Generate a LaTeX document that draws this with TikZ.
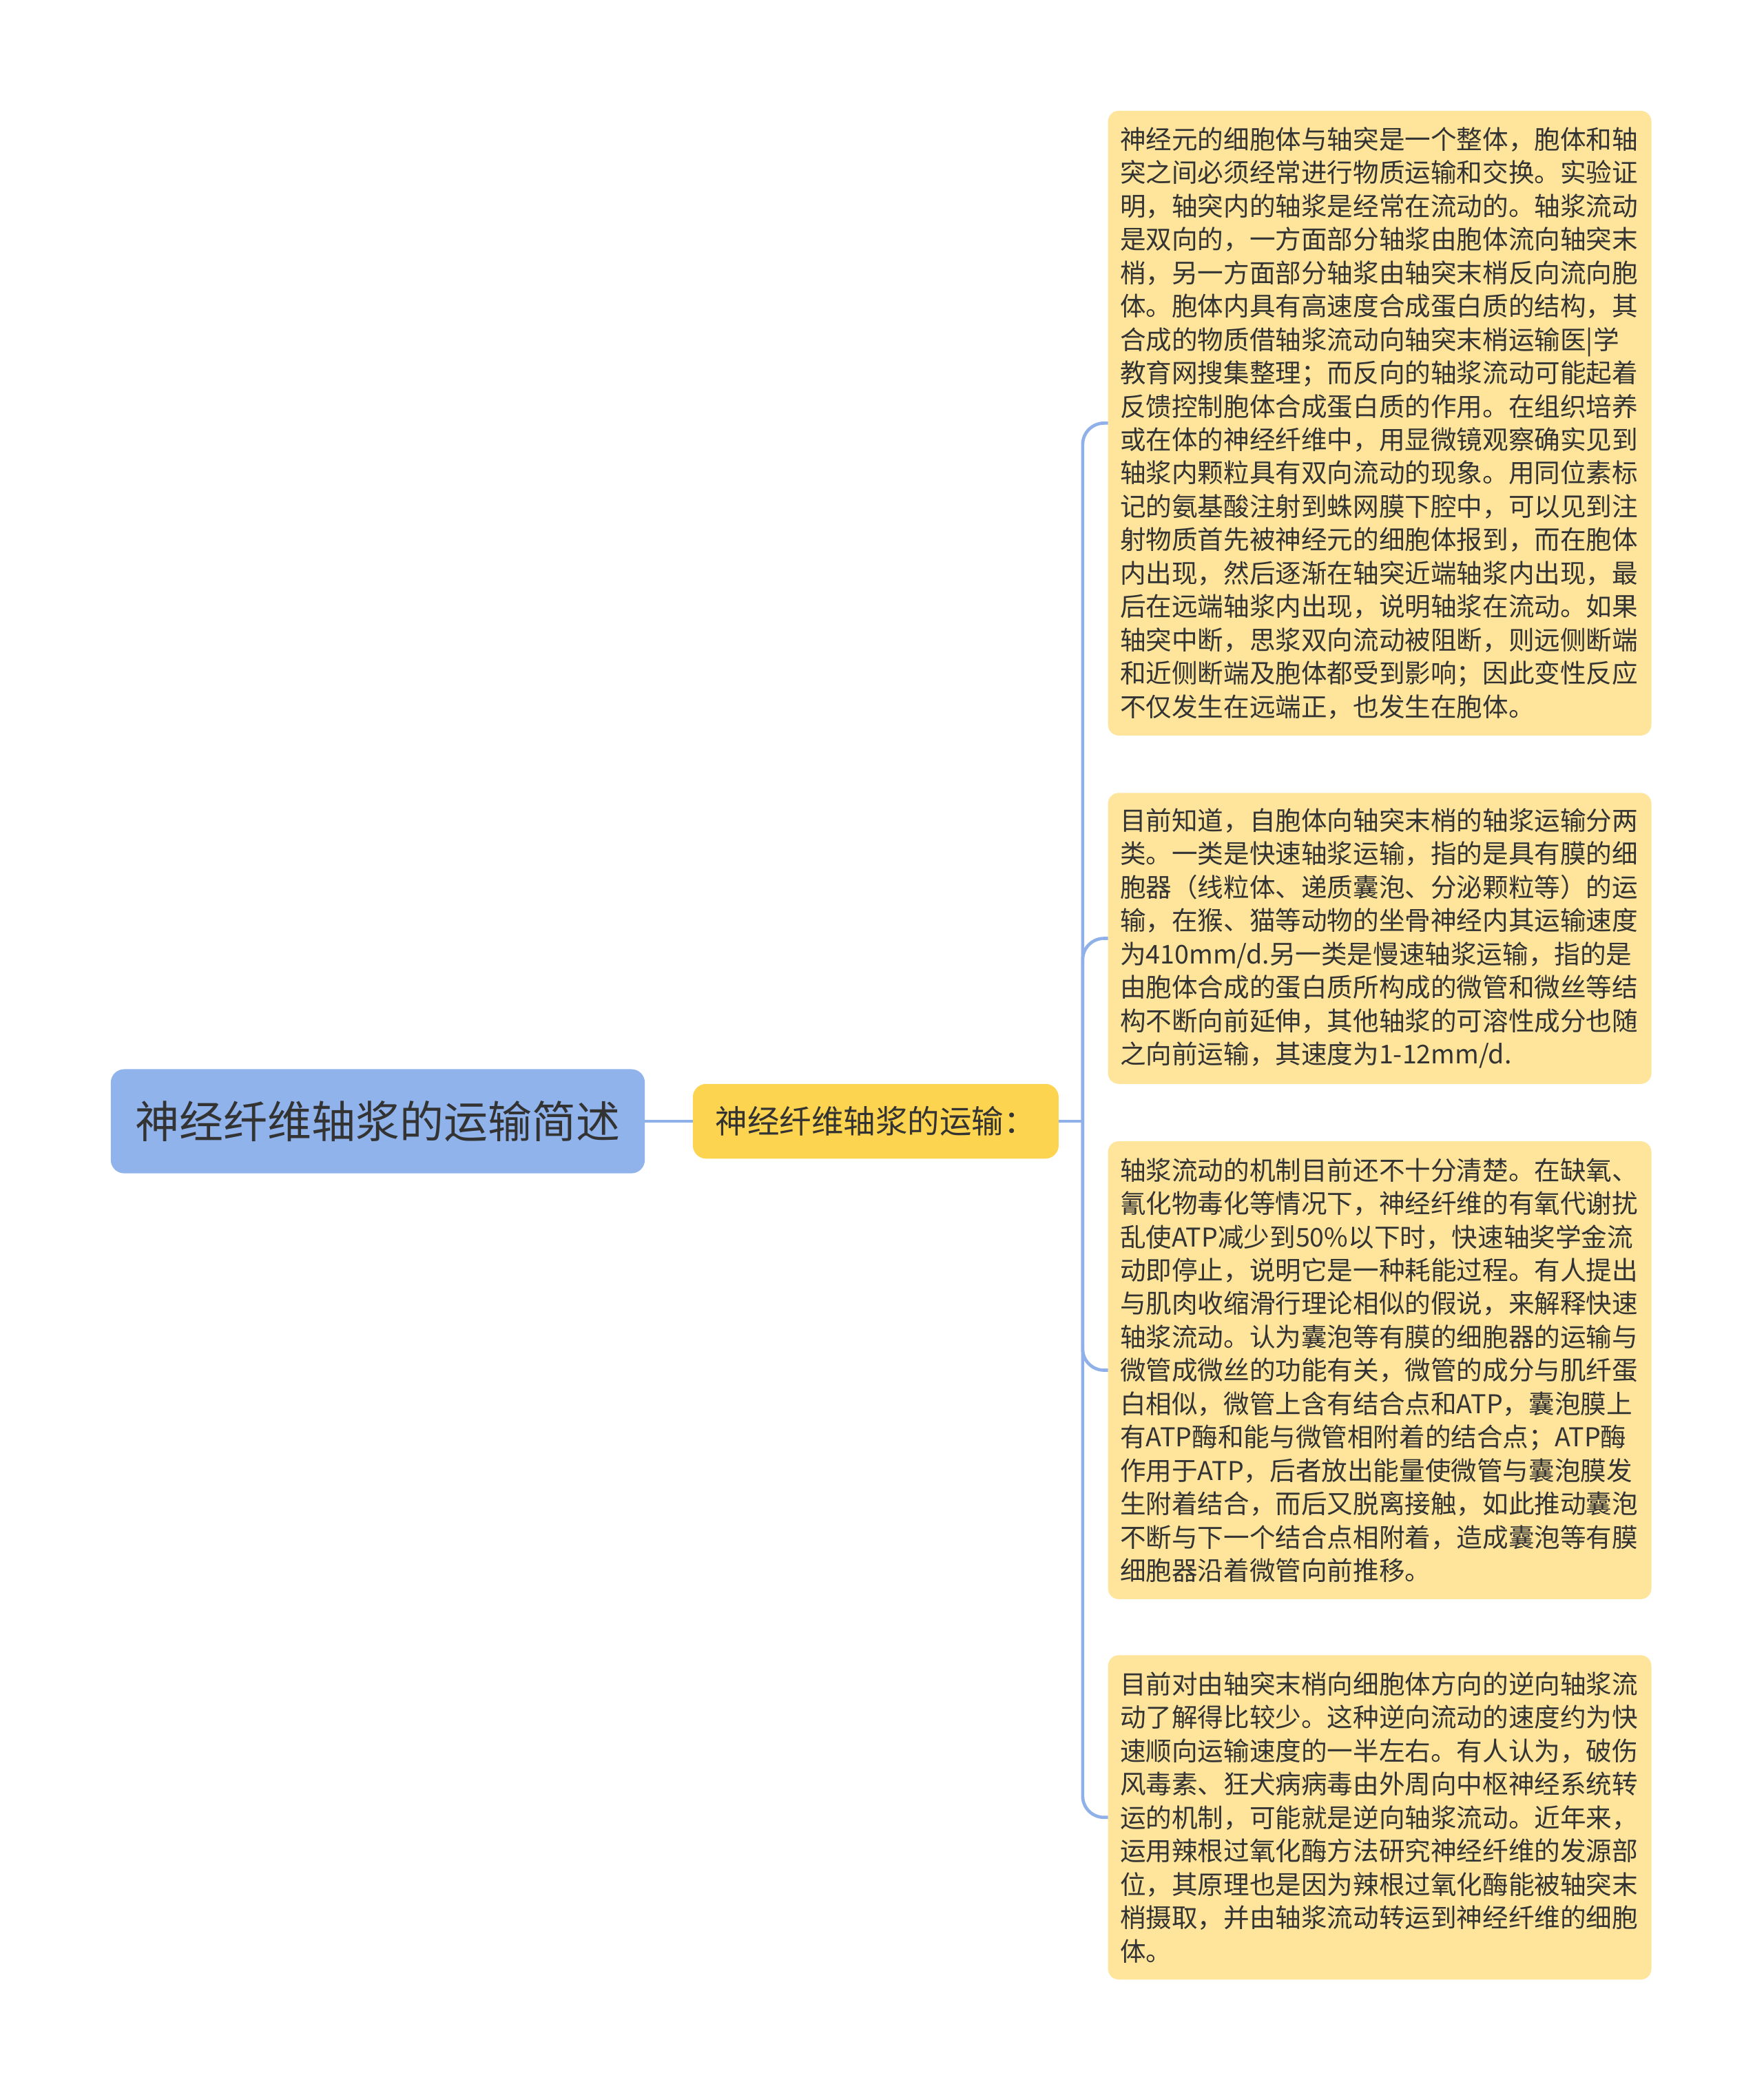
\documentclass[tikz,border=0pt]{standalone}
\usepackage{fontspec}
\setmainfont{Noto Sans CJK SC}
\definecolor{rootblue}{HTML}{91B3EC}
\definecolor{subyellow}{HTML}{FDD44F}
\definecolor{leafyellow}{HTML}{FEE59B}
\definecolor{connblue}{HTML}{8FB0E8}
\definecolor{textgray}{HTML}{333333}
\begin{document}
\begin{tikzpicture}[x=1pt,y=-1pt,
    every node/.style={outer sep=0pt, text=textgray},
    rootbox/.style={fill=rootblue, rounded corners=10pt, minimum width=400pt, minimum height=78pt, inner sep=0pt, font=\fontsize{33pt}{40pt}\selectfont},
    subbox/.style={fill=subyellow, rounded corners=10pt, minimum width=274pt, minimum height=56pt, inner sep=0pt, font=\fontsize{24pt}{30pt}\selectfont},
    leafbox/.style={fill=leafyellow, rounded corners=8pt, minimum width=407pt, text width=389pt, inner xsep=9pt, inner ysep=0pt, align=left, anchor=north west, font=\fontsize{19.4pt}{25pt}\selectfont},
    conn/.style={draw=connblue, line width=2.4pt, rounded corners=16pt}]
    \useasboundingbox (0,0) rectangle (1321,1568);
    \node[rootbox] (root) at (283,840) {神经纤维轴浆的运输简述};
    \node[subbox] (sub) at (656,840) {神经纤维轴浆的运输：};
    \node[leafbox, minimum height=468pt] (leafa) at (830,83) {神经元的细胞体与轴突是一个整体，胞体和轴\\突之间必须经常进行物质运输和交换。实验证\\明，轴突内的轴浆是经常在流动的。轴浆流动\\是双向的，一方面部分轴浆由胞体流向轴突末\\梢，另一方面部分轴浆由轴突末梢反向流向胞\\体。胞体内具有高速度合成蛋白质的结构，其\\合成的物质借轴浆流动向轴突末梢运输医|学\\教育网搜集整理；而反向的轴浆流动可能起着\\反馈控制胞体合成蛋白质的作用。在组织培养\\或在体的神经纤维中，用显微镜观察确实见到\\轴浆内颗粒具有双向流动的现象。用同位素标\\记的氨基酸注射到蛛网膜下腔中，可以见到注\\射物质首先被神经元的细胞体报到，而在胞体\\内出现，然后逐渐在轴突近端轴浆内出现，最\\后在远端轴浆内出现，说明轴浆在流动。如果\\轴突中断，思浆双向流动被阻断，则远侧断端\\和近侧断端及胞体都受到影响；因此变性反应\\不仅发生在远端正，也发生在胞体。};
    \node[leafbox, minimum height=218pt] (leafb) at (830,594) {目前知道，自胞体向轴突末梢的轴浆运输分两\\类。一类是快速轴浆运输，指的是具有膜的细\\胞器（线粒体、递质囊泡、分泌颗粒等）的运\\输，在猴、猫等动物的坐骨神经内其运输速度\\为410mm/d.另一类是慢速轴浆运输，指的是\\由胞体合成的蛋白质所构成的微管和微丝等结\\构不断向前延伸，其他轴浆的可溶性成分也随\\之向前运输，其速度为1-12mm/d.};
    \node[leafbox, minimum height=343pt] (leafc) at (830,855) {轴浆流动的机制目前还不十分清楚。在缺氧、\\氰化物毒化等情况下，神经纤维的有氧代谢扰\\乱使ATP减少到50\%以下时，快速轴奖学金流\\动即停止，说明它是一种耗能过程。有人提出\\与肌肉收缩滑行理论相似的假说，来解释快速\\轴浆流动。认为囊泡等有膜的细胞器的运输与\\微管成微丝的功能有关，微管的成分与肌纤蛋\\白相似，微管上含有结合点和ATP，囊泡膜上\\有ATP酶和能与微管相附着的结合点；ATP酶\\作用于ATP，后者放出能量使微管与囊泡膜发\\生附着结合，而后又脱离接触，如此推动囊泡\\不断与下一个结合点相附着，造成囊泡等有膜\\细胞器沿着微管向前推移。};
    \node[leafbox, minimum height=243pt] (leafd) at (830,1240) {目前对由轴突末梢向细胞体方向的逆向轴浆流\\动了解得比较少。这种逆向流动的速度约为快\\速顺向运输速度的一半左右。有人认为，破伤\\风毒素、狂犬病病毒由外周向中枢神经系统转\\运的机制，可能就是逆向轴浆流动。近年来，\\运用辣根过氧化酶方法研究神经纤维的发源部\\位，其原理也是因为辣根过氧化酶能被轴突末\\梢摄取，并由轴浆流动转运到神经纤维的细胞\\体。};
    \coordinate (trunk) at (811,840);
    \draw[conn] (root) -- (sub);
    \draw[conn] (sub) -- (trunk);
    \foreach \leaf in {leafa,leafb,leafc,leafd}
        \draw[conn] (trunk) |- (\leaf.west);
\end{tikzpicture}
\end{document}
